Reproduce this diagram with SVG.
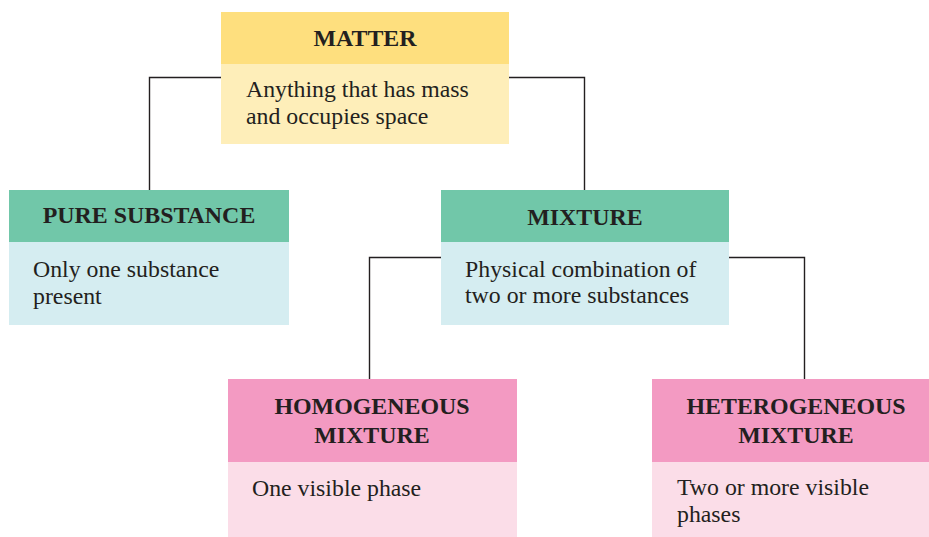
<svg xmlns="http://www.w3.org/2000/svg" width="929" height="537" viewBox="0 0 929 537">
<style>
.conn{fill:none;stroke:#231f20;stroke-width:1.4}
.h{font-family:"Liberation Serif","Times New Roman",serif;font-weight:bold;font-size:23.9px;fill:#231f20;text-anchor:middle}
.b{font-family:"Liberation Serif","Times New Roman",serif;font-size:23.8px;fill:#231f20}
.yh{fill:#fedf7e}.yb{fill:#feeeb9}
.gh{fill:#71c7a9}.gb{fill:#d5edf1}
.ph{fill:#f39ac2}.pb{fill:#fbdde8}
</style>
<rect width="929" height="537" fill="#ffffff"/>
<g id="connectors">
<polyline class="conn" points="149.5,190 149.5,77.5 584.5,77.5 584.5,190"/>
<polyline class="conn" points="369.5,379 369.5,257.5 804.5,257.5 804.5,379"/>
</g>
<g id="matter">
<rect class="yh" x="221" y="12" width="288" height="52"/>
<rect class="yb" x="221" y="64" width="288" height="80"/>
<text class="h" x="365" y="46">MATTER</text>
<text class="b" x="246" y="97">Anything that has mass</text>
<text class="b" x="246" y="124">and occupies space</text>
</g>
<g id="pure-substance">
<rect class="gh" x="9" y="190" width="280" height="52"/>
<rect class="gb" x="9" y="242" width="280" height="83"/>
<text class="h" x="149" y="223">PURE SUBSTANCE</text>
<text class="b" x="33" y="277">Only one substance</text>
<text class="b" x="33" y="304">present</text>
</g>
<g id="mixture">
<rect class="gh" x="441" y="190" width="288" height="52"/>
<rect class="gb" x="441" y="242" width="288" height="83"/>
<text class="h" x="585" y="225">MIXTURE</text>
<text class="b" x="465" y="277">Physical combination of</text>
<text class="b" x="465" y="303">two or more substances</text>
</g>
<g id="homogeneous">
<rect class="ph" x="228" y="379" width="289" height="83"/>
<rect class="pb" x="228" y="462" width="289" height="75"/>
<text class="h" x="372" y="414">HOMOGENEOUS</text>
<text class="h" x="372" y="443">MIXTURE</text>
<text class="b" x="252" y="496">One visible phase</text>
</g>
<g id="heterogeneous">
<rect class="ph" x="652" y="379" width="288" height="83"/>
<rect class="pb" x="652" y="462" width="288" height="75"/>
<text class="h" x="796" y="414">HETEROGENEOUS</text>
<text class="h" x="796" y="443">MIXTURE</text>
<text class="b" x="677" y="495">Two or more visible</text>
<text class="b" x="677" y="522">phases</text>
</g>
</svg>
